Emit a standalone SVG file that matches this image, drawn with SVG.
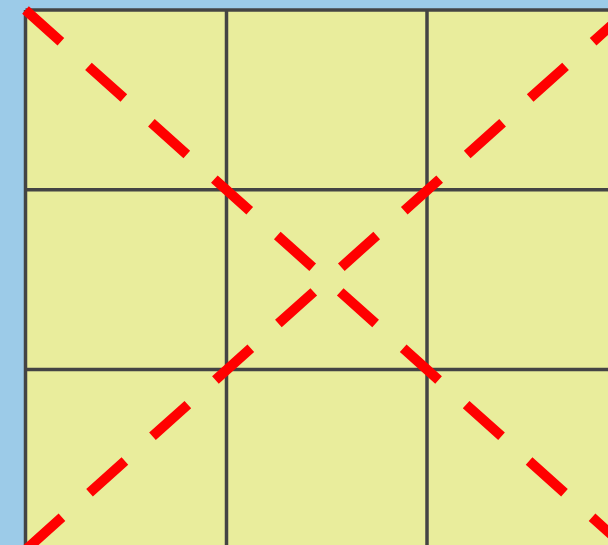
<svg xmlns="http://www.w3.org/2000/svg" width="608" height="545" viewBox="0 0 608 545">
  <style>
    .bg { fill: #9ccbe8; }
    .cell { fill: #e9ed9c; }
    .grid { stroke: #444444; stroke-width: 3.5; fill: none; }
    .diag { stroke: #ff0000; stroke-width: 10; stroke-dasharray: 47.5 37; fill: none; }
  </style>
  <rect class="bg" x="0" y="0" width="608" height="545"/>
  <g id="board">
    <rect class="cell" x="25.5" y="10" width="603" height="540"/>
    <g id="grid-lines">
      <line class="grid" x1="25.5" y1="10" x2="628.5" y2="10"/>
      <line class="grid" x1="25.5" y1="189.8" x2="628.5" y2="189.8"/>
      <line class="grid" x1="25.5" y1="369.6" x2="628.5" y2="369.6"/>
      <line class="grid" x1="25.5" y1="10" x2="25.5" y2="550"/>
      <line class="grid" x1="226.5" y1="10" x2="226.5" y2="550"/>
      <line class="grid" x1="427" y1="10" x2="427" y2="550"/>
    </g>
  </g>
  <g id="connectors">
    <line class="diag" x1="25.5" y1="10" x2="628.5" y2="550"/>
    <line class="diag" x1="628.5" y1="10" x2="25.5" y2="550"/>
  </g>
</svg>
